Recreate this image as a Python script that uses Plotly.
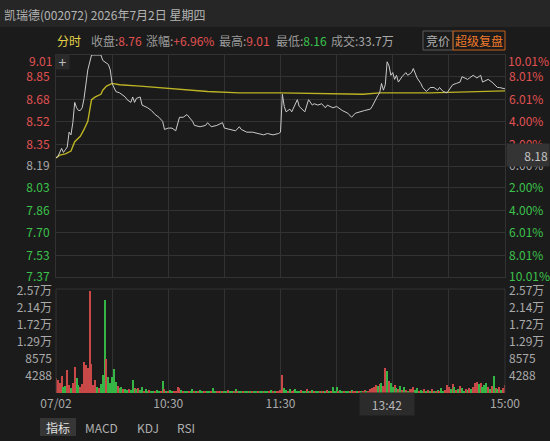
import plotly.graph_objects as go

# ---------------- data ----------------
title_text = "凯瑞德(002072) 2026年7月2日 星期四"
header_labels = ["收盘:", "涨幅:", "最高:", "最低:", "成交:"]
header_values = ["8.76", "+6.96%", "9.01", "8.16", "33.7万"]
header_kinds = ["up", "up", "up", "down", "flat"]

prev_close = 8.19

price_minutes = [0, 1, 3, 4, 5, 6, 7, 8, 9, 10, 11, 12, 13, 14, 15, 16, 17, 19, 24, 25, 27, 28, 29, 30,
                 32, 34, 37, 38, 40, 41, 42, 43, 45, 46, 49, 51, 53, 55, 57, 58, 60, 62, 64, 66, 68, 70,
                 73, 74, 77, 80, 81, 83, 86, 89, 90, 93, 96, 98, 99, 102, 105, 108, 111, 113, 116, 119, 120,
                 121, 122, 123, 125, 126, 128, 129, 130, 133, 135, 137, 138, 140, 142, 144, 145, 148, 150,
                 153, 156, 158, 160, 162, 165, 168, 169, 172, 173, 174, 175, 176, 177, 178, 179, 180, 181,
                 182, 183, 185, 187, 188, 190, 191, 192, 193, 195, 196, 198, 200, 202, 204, 205, 207, 209,
                 212, 214, 216, 217, 220, 221, 223, 225, 227, 228, 231, 233, 236, 237, 240]
price_values = [8.25, 8.26, 8.32, 8.29, 8.31, 8.33, 8.44, 8.42, 8.51, 8.66, 8.62, 8.60, 8.60, 8.62, 8.69, 8.82, 8.90, 9.01, 9.01, 8.97, 8.95, 8.94, 8.90, 8.80,
                8.74, 8.73, 8.70, 8.68, 8.66, 8.70, 8.66, 8.69, 8.70, 8.64, 8.62, 8.60, 8.57, 8.55, 8.52, 8.46, 8.47, 8.47, 8.45, 8.55, 8.55, 8.57,
                8.52, 8.49, 8.48, 8.49, 8.51, 8.48, 8.49, 8.51, 8.47, 8.46, 8.45, 8.48, 8.46, 8.44, 8.44, 8.43, 8.42, 8.43, 8.42, 8.43, 8.44,
                8.72, 8.63, 8.59, 8.61, 8.59, 8.66, 8.68, 8.63, 8.59, 8.68, 8.64, 8.65, 8.64, 8.65, 8.62, 8.64, 8.62, 8.63,
                8.60, 8.58, 8.55, 8.58, 8.59, 8.60, 8.61, 8.63, 8.71, 8.73, 8.80, 8.75, 8.79, 8.96, 8.93, 8.86, 8.88, 8.83,
                8.86, 8.81, 8.85, 8.88, 8.86, 8.88, 8.91, 8.88, 8.84, 8.80, 8.77, 8.74, 8.77, 8.77, 8.75, 8.77, 8.74, 8.73,
                8.79, 8.80, 8.81, 8.85, 8.83, 8.84, 8.86, 8.84, 8.86, 8.81, 8.83, 8.81, 8.77, 8.77, 8.76]

avg_minutes = [0, 2, 5, 8, 10, 13, 15, 17, 18, 19, 21, 24, 25, 27, 30, 34, 45, 62, 81, 98, 120, 164, 173, 200, 227, 240]
avg_values = [8.25, 8.27, 8.28, 8.30, 8.37, 8.41, 8.46, 8.52, 8.60, 8.68, 8.70, 8.72, 8.75, 8.78, 8.80, 8.79, 8.78,
              8.76, 8.74, 8.73, 8.73, 8.72, 8.73, 8.73, 8.74, 8.745]

volumes = [
    3700, 3300, 2500, 4300, 1500, 1800, 5800, 2000, 1200, 2500,
    6500, 3700, 2000, 1500, 2200, 7900, 7000, 6300, 25700, 7300,
    2000, 3300, 1500, 1200, 2200, 4500, 23400, 8700, 4000, 2500,
    4100, 6000, 2800, 1800, 1200, 1500, 900, 1100, 800, 1000,
    700, 3300, 1200, 900, 1300, 800, 1500, 600, 900, 500,
    700, 400, 600, 500, 800, 300, 600, 3000, 900, 500,
    400, 700, 500, 300, 600, 1500, 1200, 800, 400, 500,
    300, 600, 400, 900, 500, 300, 400, 700, 300, 500,
    600, 400, 300, 500, 1200, 300, 400, 500, 300, 600,
    400, 300, 700, 500, 300, 400, 900, 500, 300, 400,
    300, 500, 400, 300, 600, 300, 400, 300, 500, 300,
    400, 300, 500, 300, 400, 700, 300, 400, 500, 600,
    800, 4500, 1200, 800, 600, 900, 500, 700, 1100, 600,
    500, 800, 400, 600, 1000, 500, 400, 700, 300, 500,
    400, 600, 300, 500, 400, 700, 300, 500, 1400, 400,
    1600, 500, 700, 400, 600, 300, 500, 400, 700, 300,
    500, 600, 400, 500, 300, 700, 400, 600, 900, 1200,
    1500, 2000, 1800, 2200, 2500, 1800, 6200, 5600, 3000, 2400,
    1500, 2000, 1200, 900, 1800, 700, 1400, 800, 600, 1100,
    900, 1600, 700, 1200, 500, 800, 600, 1000, 400, 700,
    500, 900, 400, 600, 800, 500, 1200, 400, 700, 2000,
    1500, 900, 2200, 1400, 700, 1100, 1800, 1200, 600, 900,
    700, 1300, 900, 1600, 2400, 2800, 2200, 2600, 1500, 2000,
    2600, 1400, 1000, 1800, 4300, 1200, 900, 1500, 800, 1300,
    2000,
]
vol_dirs = (
    "rrrrggrrgr" "rggrrrrrrr" "rrgrgggrgg" "gggrggrggr" "ggrgrggrgg"
    "rggrggrgrg" "rggrrrrgrg" "grggrgrggr" "rggrggrrgr" "ggrggrgrgg"
    "rggrgrggrg" "grggrgrgrr" "rrggrgrrgg" "grggrgrgrg" "grgrgrgrgg"
    "grggrggrgr" "rgrgrrgrrr" "rrgrgrrgrg" "grgrgrgrgr" "rrggrggrgr"
    "grgrgrggrr" "rgrgrgrggr" "grgrrrgrgg" "grgrgrgrgr" "r"
)
assert len(volumes) == 241 and len(vol_dirs) == 241

left_ticks = ["9.01", "8.85", "8.68", "8.52", "8.35", "8.19", "8.03", "7.86", "7.70", "7.53", "7.37"]
pct_ticks = ["10.01%", "8.01%", "6.01%", "4.00%", "2.00%", "0.00%", "2.00%", "4.00%", "6.01%", "8.01%", "10.01%"]
vol_tick_vals = [4288, 8576, 12864, 17152, 21440, 25728]
vol_tick_text = ["4288", "8575", "1.29万", "1.72万", "2.14万", "2.57万"]
time_tick_vals = [0, 30, 60, 90, 120, 150, 180, 210, 240]
time_tick_text = ["07/02", "", "10:30", "", "11:30", "", "", "", "15:00"]
cursor_minute = 162
cursor_time = "13:42"
cursor_price = "8.18"
tabs = ["指标", "MACD", "KDJ", "RSI"]

# ---------------- style ----------------
W, H = 550, 441
BG = "#1b1b1b"
HEAD_BG = "#262626"
GRID = "#323232"
RED = "#e05252"
GREEN = "#3cc24c"
GRAY = "#a9a9a9"
BAR_RED = "#c94848"
BAR_GREEN = "#35b545"
FONT = "Noto Sans CJK SC, Noto Sans, sans-serif"


def py(yp):
    return 1 - yp / H


def pxx(xp):
    return xp / W


def col_for(i):
    if i < 5:
        return RED
    if i == 5:
        return GRAY
    return GREEN


left_text = []
right_text = []
for i, (a, b) in enumerate(zip(left_ticks, pct_ticks)):
    c = col_for(i)
    left_text.append("" if i == 0 else f'<span style="color:{c}">{a}</span>')
    right_text.append("" if i == 0 else f'<span style="color:{c}">{b}</span>')
left_vals = [float(t) for t in left_ticks]

bar_colors = [BAR_RED if d == "r" else BAR_GREEN for d in vol_dirs]

fig = go.Figure()
fig.add_trace(go.Bar(x=list(range(len(volumes))), y=volumes, marker=dict(color=bar_colors, line=dict(width=0)),
                     width=0.62, xaxis="x2", yaxis="y2", hoverinfo="skip"))
fig.add_trace(go.Scatter(x=[0], y=[0], mode="markers", marker=dict(opacity=0), xaxis="x2", yaxis="y4", hoverinfo="skip"))
fig.add_trace(go.Scatter(x=[0], y=[prev_close], mode="markers", marker=dict(opacity=0), xaxis="x", yaxis="y3", hoverinfo="skip"))
fig.add_trace(go.Scatter(x=avg_minutes, y=avg_values, mode="lines", line=dict(color="#bdb424", width=1.4),
                         xaxis="x", yaxis="y", hoverinfo="skip"))
fig.add_trace(go.Scatter(x=price_minutes, y=price_values, mode="lines", line=dict(color="#cacaca", width=1),
                         xaxis="x", yaxis="y", hoverinfo="skip"))

xdom = [pxx(56), pxx(505)]
tickfont = dict(size=12, family=FONT, color=GRAY)
lo, hi = float(left_ticks[-1]), float(left_ticks[0])
vol_top_px, vol_bot_px = 289, 393
vol_max = vol_tick_vals[-1] * (vol_bot_px - vol_top_px) / (vol_bot_px - 291)

fig.update_layout(
    width=W, height=H, margin=dict(l=0, r=0, t=0, b=0, pad=0, autoexpand=False),
    paper_bgcolor=BG, plot_bgcolor=BG, showlegend=False, bargap=0,
    font=dict(family=FONT, size=12, color=GRAY),
    xaxis=dict(domain=xdom, range=[0, 240], anchor="y", tickvals=time_tick_vals, showticklabels=False,
               showgrid=True, gridcolor=GRID, zeroline=False, showline=True, linecolor=GRID, mirror=True, ticks="",
               automargin=False),
    yaxis=dict(domain=[py(277), py(55)], range=[lo, hi], anchor="x", tickvals=left_vals, ticktext=left_text,
               showgrid=True, gridcolor=GRID, zeroline=False, showline=True, linecolor=GRID, mirror=True,
               ticks="", tickfont=tickfont, ticklabelstandoff=3, automargin=False),
    yaxis3=dict(overlaying="y", side="right", anchor="x", range=[lo, hi], tickvals=left_vals, ticktext=right_text,
                showgrid=False, zeroline=False, ticks="", tickfont=tickfont, ticklabelstandoff=3, automargin=False),
    xaxis2=dict(domain=xdom, range=[0, 240], anchor="y2", tickvals=time_tick_vals, ticktext=time_tick_text,
                showgrid=True, gridcolor=GRID, zeroline=False, showline=False, ticks="", tickfont=tickfont,
                ticklabelstandoff=2, automargin=False),
    yaxis2=dict(domain=[py(vol_bot_px), py(vol_top_px)], range=[0, vol_max], anchor="x2",
                tickvals=vol_tick_vals, ticktext=vol_tick_text, showgrid=False, zeroline=False,
                showline=False, ticks="", tickfont=tickfont, ticklabelstandoff=3, automargin=False),
    yaxis4=dict(overlaying="y2", side="right", anchor="x2", range=[0, vol_max], tickvals=vol_tick_vals,
                ticktext=vol_tick_text, showgrid=False, zeroline=False, ticks="", tickfont=tickfont,
                ticklabelstandoff=3, automargin=False),
)

shapes = [
    dict(type="rect", xref="paper", yref="paper", x0=0, x1=1, y0=py(27), y1=1, fillcolor=HEAD_BG,
         line=dict(width=0), layer="below"),
    # volume panel frame
    dict(type="line", xref="paper", yref="paper", x0=xdom[0], x1=xdom[1], y0=py(vol_top_px), y1=py(vol_top_px),
         line=dict(color=GRID, width=1)),
    dict(type="line", xref="paper", yref="paper", x0=xdom[0], x1=xdom[0], y0=py(vol_bot_px), y1=py(vol_top_px),
         line=dict(color=GRID, width=1)),
    dict(type="line", xref="paper", yref="paper", x0=xdom[1], x1=xdom[1], y0=py(vol_bot_px), y1=py(vol_top_px),
         line=dict(color=GRID, width=1)),
    # header buttons
    dict(type="rect", xref="paper", yref="paper", x0=pxx(423), x1=pxx(453), y0=py(50), y1=py(31),
         line=dict(color="#5c5c5c", width=1)),
    dict(type="rect", xref="paper", yref="paper", x0=pxx(453), x1=pxx(505), y0=py(50), y1=py(31),
         line=dict(color="#c8621c", width=1)),
    # tab highlight
    dict(type="rect", xref="paper", yref="paper", x0=pxx(40), x1=pxx(76), y0=py(436), y1=py(418),
         fillcolor="#363636", line=dict(width=0)),
]

ann = []


def text(x, y, s, color=GRAY, size=12, anchor="left", **kw):
    kw.setdefault("align", anchor)
    ann.append(dict(xref="paper", yref="paper", x=pxx(x), y=py(y), text=s, showarrow=False,
                    xanchor=anchor, yanchor="middle", font=dict(size=size, color=color, family=FONT), **kw))


text(2, 14, title_text, color="#b4b4b4", size=12)
text(55, 41, "分时", color="#e4d24a")
hx = [89, 144, 217, 274, 329]
kind_col = {"up": RED, "down": GREEN, "flat": GRAY}
for x, lab, val, k in zip(hx, header_labels, header_values, header_kinds):
    text(x, 41, f'{lab}<span style="color:{kind_col[k]}">{val}</span>', color="#9a9a9a")
text(438, 41, "竞价", color="#b0b0b0", anchor="center")
text(479, 41, "超级复盘", color="#f07a2a", anchor="center")

# top tick labels (drawn shifted inside the panel)
text(54, 61, left_ticks[0], color=RED, anchor="right")
text(506, 61, pct_ticks[0], color=RED, anchor="left")

# cross-hair labels
text(506, 155, cursor_price, color="#c4c4c4", anchor="left", bgcolor="#343434", width=40, height=20,
     align="right")
ann.append(dict(xref="x2", yref="paper", x=cursor_minute, y=py(404), text=cursor_time, showarrow=False,
                xanchor="left", yanchor="middle", bgcolor="#2b2b2b", width=52, height=20,
                font=dict(size=12, color="#b8b8b8", family=FONT)))
# plus icon
text(62, 62, "+", color="#bdbdbd", size=14, anchor="center", bgcolor="#2a2a2a", width=11, height=12)

# tabs
tab_x = [58, 101, 148, 186]
for i, (t, x) in enumerate(zip(tabs, tab_x)):
    text(x, 427, t, color="#e0e0e0" if i == 0 else "#b0b0b0", anchor="center")

fig.update_layout(shapes=shapes, annotations=ann)
fig.write_html("out.html")
